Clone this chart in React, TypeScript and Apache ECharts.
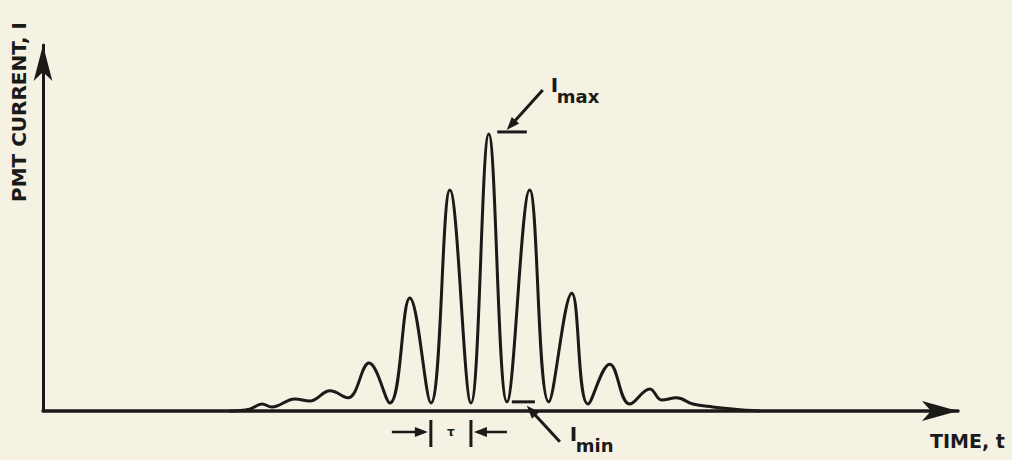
import React, { useEffect, useRef } from 'react';
import * as echarts from 'echarts';

// Time in units of the fringe period tau, current in arbitrary units
const TIME = [4.6, 5.1, 5.41, 5.65, 6.22, 6.59, 7.09, 7.53, 8.05, 8.57, 9.06, 9.58, 10.05, 10.57, 11.01, 11.46, 12.02, 12.49, 13.06, 13.46, 14.0, 14.49, 14.99, 15.28, 15.65, 16.05, 16.54, 17.09, 17.7];
const CURRENT = [0, 0.5, 1.9, 1.1, 3.3, 2.7, 5.5, 3.6, 13.1, 2.2, 30.9, 2.2, 60.4, 2.2, 75.7, 2.5, 60.4, 2.5, 32.2, 1.9, 12.8, 1.9, 6.0, 3.0, 3.6, 1.9, 1.1, 0.5, 0];

const X_MAX = 22.6;
const Y_MAX = 100;
const IMAX_TICK = [11.22, 11.95];
const IMIN_TICK = [11.58, 12.15];
const IMIN_VALUE = 2.5;
const TAU_MARKS = [9.58, 10.57];

const X_LABEL = 'TIME, t';
const Y_LABEL = 'PMT CURRENT, I';

const INK = '#1b1a18';
const BG = '#f5f2e3';
const FONT = 'DejaVu Sans';

function arrow(x1: number, y1: number, x2: number, y2: number, head = 13, w = 10, lw = 3) {
  const dx = x2 - x1, dy = y2 - y1;
  const L = Math.hypot(dx, dy);
  const ux = dx / L, uy = dy / L;
  const bx = x2 - ux * head, by = y2 - uy * head;
  const px = -uy, py = ux;
  return [
    { type: 'line', shape: { x1, y1, x2: bx + ux * 2, y2: by + uy * 2 }, style: { stroke: INK, lineWidth: lw } },
    {
      type: 'polygon',
      shape: { points: [[x2, y2], [bx + (px * w) / 2, by + (py * w) / 2], [bx - (px * w) / 2, by - (py * w) / 2]] },
      style: { fill: INK },
    },
  ];
}

function subLabel(x: number, y: number, main: string, sub: string) {
  // x, y: left / baseline of the subscript
  return [
    {
      type: 'text',
      x,
      y: y - 8,
      style: { text: main, fontFamily: FONT, fontWeight: 'bold', fontSize: 20, align: 'left', verticalAlign: 'bottom', fill: INK },
    },
    {
      type: 'text',
      x: x + 6,
      y: y + 3,
      style: { text: sub, fontFamily: FONT, fontWeight: 'bold', fontSize: 18, align: 'left', verticalAlign: 'bottom', fill: INK },
    },
  ];
}

export default function App() {
  const ref = useRef<HTMLDivElement>(null);
  useEffect(() => {
    if (!ref.current) return;
    const chart = echarts.init(ref.current, null, { renderer: 'svg' });
    chart.setOption({
      animation: false,
      backgroundColor: BG,
      grid: { left: 43, right: 54, top: 45, bottom: 49 },
      xAxis: {
        type: 'value',
        min: 0,
        max: X_MAX,
        axisLine: { show: true, symbol: ['none', 'arrow'], symbolSize: [15, 36], lineStyle: { color: INK, width: 3.5 } },
        axisTick: { show: false },
        axisLabel: { show: false },
        splitLine: { show: false },
      },
      yAxis: {
        type: 'value',
        min: 0,
        max: Y_MAX,
        axisLine: { show: true, symbol: ['none', 'arrow'], symbolSize: [14, 36], lineStyle: { color: INK, width: 3 } },
        axisTick: { show: false },
        axisLabel: { show: false },
        splitLine: { show: false },
      },
      series: [
        {
          type: 'line',
          data: TIME.map((t, i) => [t, CURRENT[i]]),
          smooth: 0.4,
          symbol: 'none',
          clip: false,
          lineStyle: { color: INK, width: 3 },
        },
      ],
    });

    const px = (t: number, v: number) => chart.convertToPixel({ gridIndex: 0 }, [t, v]) as number[];
    const peakIdx = CURRENT.indexOf(Math.max(...CURRENT));
    const imax = CURRENT[peakIdx];
    const P = px(TIME[peakIdx], imax);
    const tA = px(IMAX_TICK[0], imax);
    const tB = px(IMAX_TICK[1], imax);
    const mA = px(IMIN_TICK[0], IMIN_VALUE);
    const mB = px(IMIN_TICK[1], IMIN_VALUE);
    const base = px(0, 0)[1];
    const tauL = px(TAU_MARKS[0], 0)[0];
    const tauR = px(TAU_MARKS[1], 0)[0];
    const ay = base + 21;

    const graphic: any[] = [
      // Imax
      { type: 'line', shape: { x1: tA[0], y1: tA[1] - 2, x2: tB[0], y2: tB[1] - 2 }, style: { stroke: INK, lineWidth: 3 } },
      ...arrow(P[0] + 54, P[1] - 44, P[0] + 18, P[1] - 4),
      ...subLabel(P[0] + 62, P[1] - 31, 'I', 'max'),
      // Imin
      { type: 'line', shape: { x1: mA[0], y1: mA[1], x2: mB[0], y2: mB[1] }, style: { stroke: INK, lineWidth: 3 } },
      ...arrow(mA[0] + 48, mA[1] + 40, mA[0] + 15, mA[1] + 4),
      ...subLabel(mA[0] + 58, mA[1] + 50, 'I', 'min'),
      // tau
      { type: 'line', shape: { x1: tauL, y1: base + 9, x2: tauL, y2: base + 36 }, style: { stroke: INK, lineWidth: 3 } },
      { type: 'line', shape: { x1: tauR, y1: base + 9, x2: tauR, y2: base + 36 }, style: { stroke: INK, lineWidth: 3 } },
      ...arrow(tauL - 39, ay, tauL - 3, ay, 13, 10, 2.5),
      ...arrow(tauR + 36, ay, tauR + 3, ay, 13, 10, 2.5),
      {
        type: 'text',
        x: (tauL + tauR) / 2,
        y: ay,
        style: { text: 'τ', fontFamily: FONT, fontWeight: 'bold', fontSize: 12, align: 'center', verticalAlign: 'middle', fill: INK },
      },
      // axis titles
      {
        type: 'text',
        x: 930,
        y: 431,
        style: { text: X_LABEL, fontFamily: FONT, fontWeight: 'bold', fontSize: 19, align: 'left', verticalAlign: 'top', fill: INK },
      },
      {
        type: 'text',
        x: 19,
        y: 112,
        rotation: Math.PI / 2,
        style: { text: Y_LABEL, fontFamily: FONT, fontWeight: 'bold', fontSize: 20, align: 'center', verticalAlign: 'middle', fill: INK },
      },
    ];
    chart.setOption({ graphic });

    return () => chart.dispose();
  }, []);

  return (
    <div
      ref={ref}
      style={{ position: 'fixed', left: 0, top: 0, width: 1012, height: 460, background: BG }}
    />
  );
}
